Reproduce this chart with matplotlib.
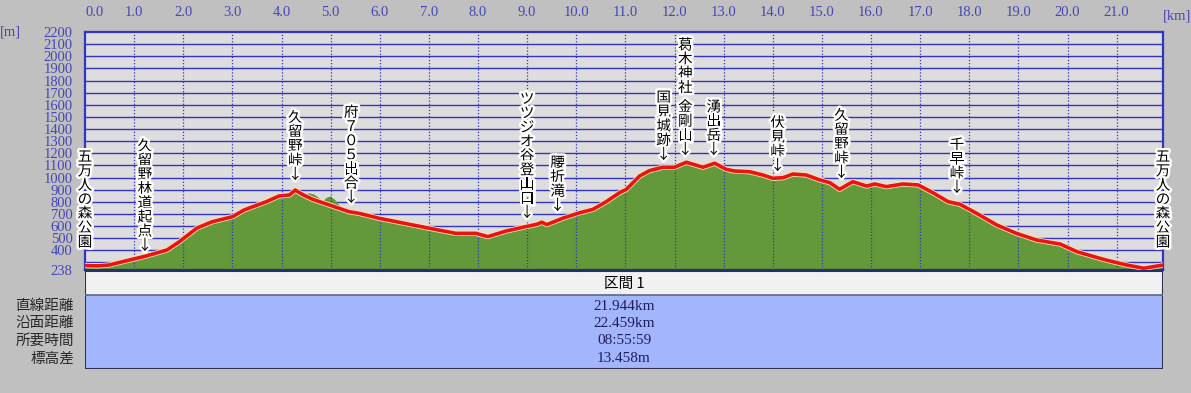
import matplotlib
matplotlib.use('Agg')
import matplotlib.pyplot as plt
import matplotlib.patheffects as pe
from matplotlib.patches import Rectangle

plt.rcParams['font.family'] = ['Noto Sans CJK JP', 'DejaVu Sans']

# route profile (km, m)
route_km = [0.0, 0.25, 0.49, 0.9, 1.24, 1.67, 1.92, 2.28, 2.59, 3.0, 3.24, 3.69, 3.95,
            4.16, 4.28, 4.42, 4.63, 5.03, 5.38, 5.58, 5.99, 7.01, 7.55, 7.96, 8.2, 8.57, 8.91,
            9.2, 9.3, 9.4, 9.72, 10.07, 10.34, 10.61, 10.88, 11.02, 11.29, 11.49, 11.76,
            12.0, 12.24, 12.58, 12.82, 13.05, 13.22, 13.53, 13.8, 14.0, 14.21, 14.41,
            14.68, 14.96, 15.16, 15.36, 15.63, 15.91, 16.08, 16.31, 16.65, 16.96, 17.26,
            17.57, 17.81, 18.15, 18.56, 18.96, 19.37, 19.85, 20.19, 20.73, 21.14, 21.55,
            21.944]
route_elev = [275, 272, 279, 320, 353, 403, 471, 584, 636, 677, 733, 801, 848,
              856, 897, 862, 821, 766, 718, 705, 664, 582, 540, 540, 513, 559, 590,
              615, 632, 612, 664, 710, 738, 801, 875, 903, 1013, 1057, 1085,
              1085, 1126, 1085, 1118, 1068, 1054, 1048, 1021, 994, 999, 1029,
              1021, 980, 958, 903, 966, 930, 947, 925, 947, 939, 875,
              801, 780, 705, 609, 540, 485, 452, 389, 326, 285, 252,
              279]

# terrain bumps next to the route after 久留野峠
bump_km = [4.35, 4.45, 4.55, 4.65, 4.74, 4.83, 4.91, 4.99, 5.08, 5.2]
bump_elev = [870, 866, 874, 866, 840, 805, 838, 848, 820, 760]

# place names: (km, elevation of the last glyph, text)
labels = [
    (0.0, 465, '五万人の森公園'),
    (1.22, 436, '久留野林道起点↓'),
    (4.28, 1021, '久留野峠↓'),
    (5.42, 832, '府７０５出合↓'),
    (9.0, 708, 'ツツジオ谷登山口↓'),
    (9.62, 766, '腰折滝↓'),
    (11.78, 1186, '国見城跡↓'),
    (12.22, 1738, '葛木神社'),
    (12.22, 1227, '金剛山↓'),
    (12.8, 1227, '湧出岳↓'),
    (14.1, 1095, '伏見峠↓'),
    (15.4, 1038, '久留野峠↓'),
    (17.75, 914, '千早峠↓'),
    (21.944, 465, '五万人の森公園'),
]

y_ticks = [238] + list(range(400, 2300, 100))
x_ticks = list(range(0, 22))

row_names = ['直線距離', '沿面距離', '所要時間', '標高差']
row_values = ['21.944km', '22.459km', '08:55:59', '13.458m']
section_name = '区間 1'

W, H = 1191, 393
BLUE = '#3434c4'
TXT_BLUE = '#4646b4'

fig = plt.figure(figsize=(W / 100, H / 100), dpi=100)
fig.patch.set_facecolor('#c0c0c0')


def fx(px):
    return px / W


def fy(py):
    return 1 - py / H


ax = fig.add_axes([fx(85), fy(270), (1163 - 85) / W, (270 - 32) / H])
ax.set_facecolor('#dddddd')
ax.set_xlim(0, 21.944)
ax.set_ylim(238, 2200)

for e in range(300, 2200, 100):
    ax.axhline(e, color=BLUE, lw=1.0, zorder=1)
for k in range(1, 22):
    ax.axvline(k, color=BLUE, lw=0.9, ls=(0, (1, 1.5)), zorder=4)

ax.fill_between(bump_km, bump_elev, 238, color='#63993a', lw=0, zorder=2)
ax.fill_between(route_km, route_elev, 238, color='#63993a', lw=0, zorder=2)
ax.plot(route_km, route_elev, color='#ee1111', lw=2.6, zorder=5,
        path_effects=[pe.Stroke(linewidth=3.8, foreground='#f3e6b0'), pe.Normal()])

for s in ax.spines.values():
    s.set_color(BLUE)
    s.set_linewidth(1.6)
ax.spines['bottom'].set_color('#283070')

ax.set_yticks(y_ticks)
ax.set_yticklabels([str(v) for v in y_ticks], family='Liberation Serif',
                   fontsize=10.5, color=TXT_BLUE)
ax.tick_params(axis='y', length=0, pad=9)

ax.xaxis.tick_top()
ax.set_xticks(x_ticks)
ax.set_xticklabels(['%.1f' % v for v in x_ticks], family='Liberation Serif',
                   fontsize=10.5, color=TXT_BLUE)
ax.tick_params(axis='x', length=0, pad=9)
ax.get_xticklabels()[0].set_horizontalalignment('left')

fig.text(fx(10), fy(32), '[m]', family='Liberation Serif', fontsize=10.5,
         color=TXT_BLUE, ha='center', va='center')
fig.text(fx(1177), fy(16), '[km]', family='Liberation Serif', fontsize=10.5,
         color=TXT_BLUE, ha='center', va='center')

halo = [pe.withStroke(linewidth=3.5, foreground='white')]
for km, elev, name in labels:
    n = len(name)
    for i, ch in enumerate(name):
        ax.annotate(ch, xy=(km, elev), xytext=(0, (n - 1 - i) * 14.2),
                    textcoords='offset pixels', ha='center', va='center',
                    fontsize=10.5, color='black',
                    path_effects=halo, annotation_clip=False, zorder=8)

# summary table
tax = fig.add_axes([fx(85), fy(369), (1163 - 85) / W, (369 - 271) / H])
tax.set_xlim(0, 1)
tax.set_ylim(369, 271)
tax.axis('off')
tax.add_patch(Rectangle((0, 271), 1, 24, facecolor='#f1f1f1', edgecolor='none'))
tax.add_patch(Rectangle((0, 295), 1, 74, facecolor='#a3b5fd', edgecolor='none'))
tax.plot([0, 1], [295, 295], color='#606880', lw=1.2)
tax.add_patch(Rectangle((0, 271), 1, 98, facecolor='none', edgecolor='#303050', lw=1.5))
tax.text(0.5, 284, section_name, ha='center', va='center', fontsize=10.5, color='black')

row_y = [306, 323.5, 341, 359]
for name, val, y in zip(row_names, row_values, row_y):
    tax.text(0.5, y, val, ha='center', va='center', family='Liberation Serif',
             fontsize=11, color='#1e1e5a')
    fig.text(fx(74), fy(y), name, ha='right', va='center', fontsize=10.5, color='#282828')

fig.savefig('out.png', dpi=100, facecolor=fig.get_facecolor())
